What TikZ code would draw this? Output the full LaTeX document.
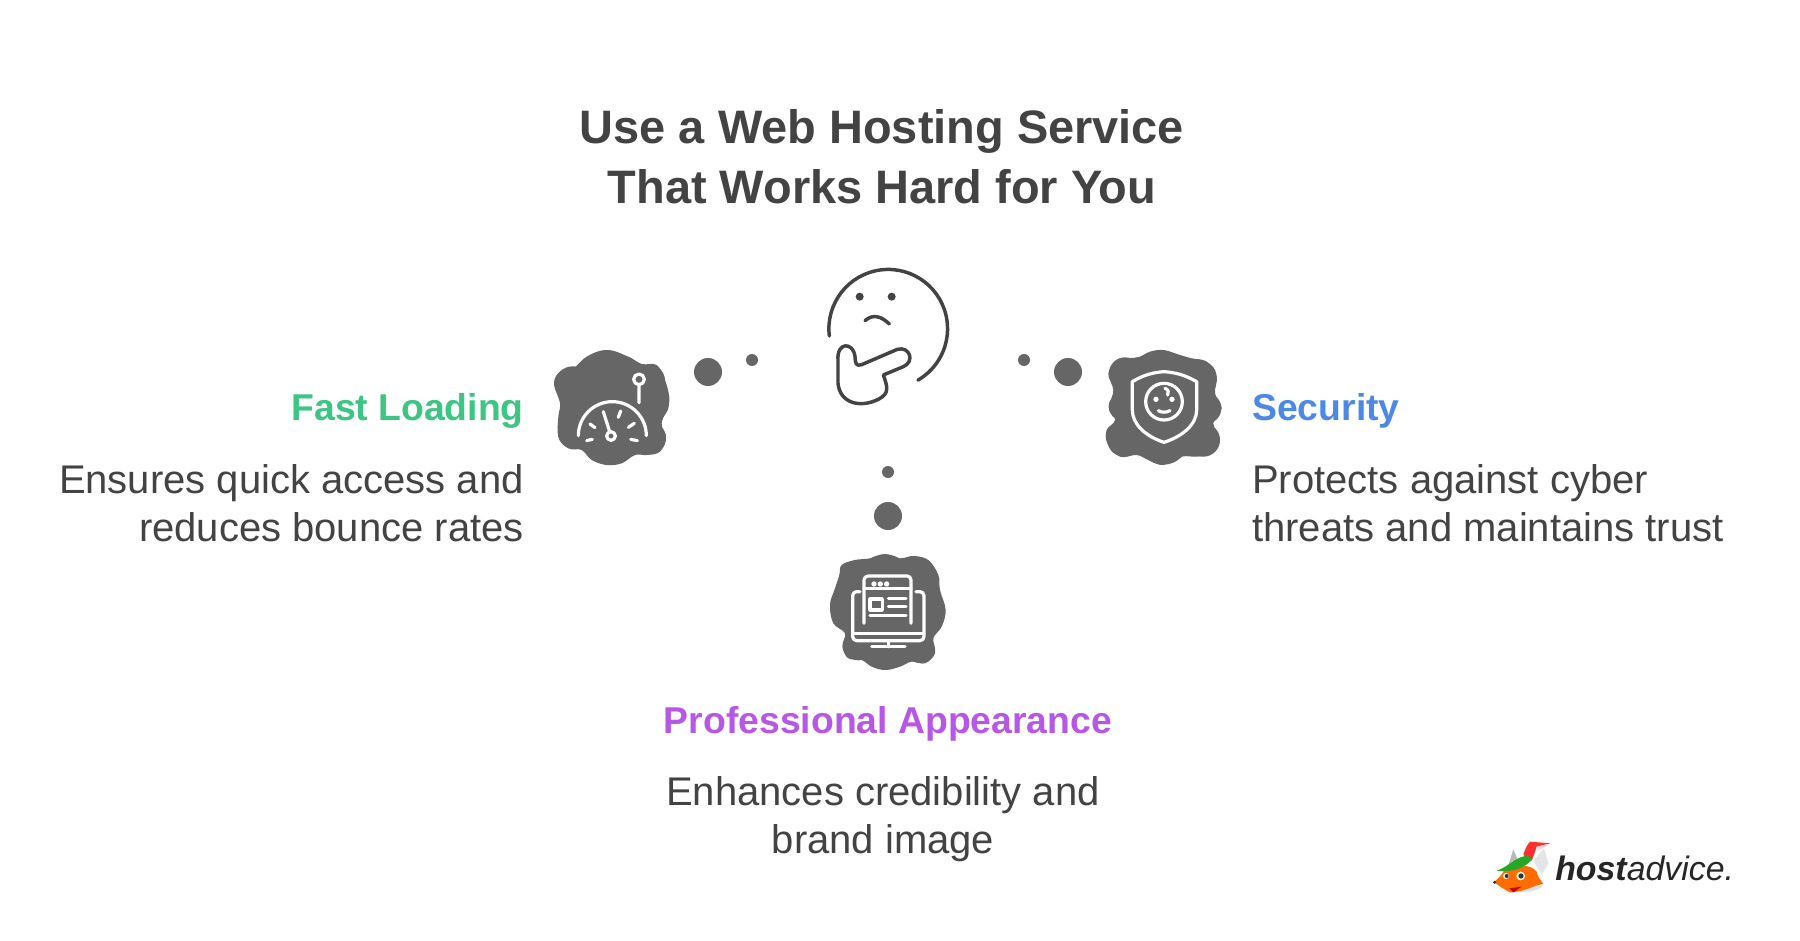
\documentclass[tikz,border=0pt]{standalone}
\usepackage{fontspec}
\setmainfont{Liberation Sans}
\definecolor{ink}{HTML}{434343}
\definecolor{blob}{HTML}{666666}
\definecolor{cgreen}{HTML}{3CC583}
\definecolor{cblue}{HTML}{4E88E7}
\definecolor{cpurple}{HTML}{B658E5}
\tikzset{
  titletext/.style={font=\fontsize{35.2}{44.8}\selectfont\bfseries,text=ink,align=center,inner sep=0pt},
  headtext/.style={font=\fontsize{28}{34}\selectfont\bfseries,inner sep=0pt},
  bodytext/.style={font=\fontsize{30}{36.4}\selectfont,text=ink,inner sep=0pt},
  dot/.style={fill=blob,draw=none,circle,inner sep=0pt},
  iconline/.style={draw=white,line width=2.4pt,line cap=round,line join=round},
  faceline/.style={draw=ink,line width=2.6pt,line cap=round,line join=round}
}
\begin{document}
\begin{tikzpicture}[x=0.75pt,y=-0.75pt]
\useasboundingbox (0,0) rectangle (1800,941);
\fill[white] (0,0) rectangle (1800,941);
\node[titletext] (title) at (882,157) {Use a Web Hosting Service\\That Works Hard for You};
% thinking face
\begin{scope}[shift={(810,260)},scale=1/3]
\draw[faceline] (58,228) arc[start angle=173,end angle=420,radius=178];
\fill[ink] (149,110) circle[radius=12];
\fill[ink] (245,110) circle[radius=12];
\draw[faceline] (165,182) .. controls (190,160) and (215,170) .. (238,192);
\draw[faceline] (84,300) .. controls (80,245) and (130,245) .. (135,290)
 .. controls (136,310) and (138,320) .. (155,314) -- (262,268)
 .. controls (300,258) and (315,305) .. (280,320) -- (220,345)
 .. controls (232,380) and (240,400) .. (205,418)
 .. controls (150,445) and (90,430) .. (84,370) -- cycle;
\end{scope}
% dots
\node[dot,minimum size=21] (d1) at (708,372) {};
\node[dot,minimum size=9] (d2) at (752,360) {};
\node[dot,minimum size=9] (d3) at (1024,360) {};
\node[dot,minimum size=21] (d4) at (1068,372) {};
\node[dot,minimum size=9] (d5) at (888,472) {};
\node[dot,minimum size=21] (d6) at (888,516) {};
% gauge
\begin{scope}[shift={(540,340)},scale=1/3]
\fill[blob] plot[smooth cycle,tension=0.6] coordinates {(200,30)(265,50)(305,72)(350,75)(375,120)(388,185)(365,250)(378,290)(360,335)(320,345)(285,345)(245,370)(200,375)(155,360)(125,330)(85,325)(55,290)(55,230)(60,190)(42,130)(60,95)(100,85)(140,50)};
\fill[blob] (98,133) circle[radius=54] (200,125) circle[radius=94] (328,122) circle[radius=47]
 (332,190) circle[radius=55] (330,295) circle[radius=48] (205,298) circle[radius=76] (100,280) circle[radius=46];
\draw[iconline] (115,287) arc[start angle=180,end angle=360,radius=102];
\draw[iconline] (190,215) -- (208,272);
\draw[iconline] (213,288) circle[radius=13];
\draw[iconline] (150,252) -- (165,263) (235,232) -- (242,213) (265,262) -- (283,250)
 (140,302) -- (157,298) (272,298) -- (292,302);
\draw[iconline] (297,118) circle[radius=16] (297,134) -- (297,188);
\end{scope}
% shield
\begin{scope}[shift={(1100,340)},scale=1/3]
\fill[blob] plot[smooth cycle,tension=0.6] coordinates {(190,30)(240,45)(275,55)(320,65)(350,110)(345,160)(365,205)(340,250)(360,300)(335,340)(290,350)(245,350)(190,375)(145,360)(110,345)(60,350)(22,310)(20,270)(45,240)(30,195)(40,150)(25,100)(50,60)(85,55)(120,50)(150,35)};
\fill[blob] (75,100) circle[radius=48] (185,105) circle[radius=74] (300,112) circle[radius=50]
 (318,205) circle[radius=46] (68,200) circle[radius=42] (72,300) circle[radius=50]
 (310,300) circle[radius=50] (190,298) circle[radius=76];
\draw[iconline] (97,125) .. controls (130,105) and (160,97) .. (192,95)
  .. controls (225,97) and (255,105) .. (290,125) -- (290,210)
  .. controls (290,255) and (245,290) .. (192,307)
  .. controls (140,290) and (97,255) .. (97,210) -- cycle;
\draw[iconline] (192,185) circle[radius=55];
\fill[white] (168,178) circle[radius=8] (216,178) circle[radius=8];
\draw[iconline] (175,212) .. controls (185,218) and (200,218) .. (210,212);
\draw[iconline] (195,145) .. controls (205,148) and (208,158) .. (203,165);
\end{scope}
% browser
\begin{scope}[shift={(800,450)},scale=1/3]
\fill[blob] plot[smooth cycle,tension=0.6] coordinates {(255,312)(300,325)(340,318)(385,330)(415,375)(420,420)(437,480)(425,530)(400,565)(405,610)(375,640)(335,635)(300,650)(255,660)(215,650)(185,630)(145,625)(127,590)(135,550)(100,520)(90,465)(105,415)(118,375)(125,345)(165,330)(210,325)};
\fill[blob] (170,385) circle[radius=52] (255,395) circle[radius=82] (345,385) circle[radius=65]
 (375,480) circle[radius=60] (148,465) circle[radius=57] (175,585) circle[radius=46]
 (258,585) circle[radius=74] (360,595) circle[radius=44];
\draw[iconline,rounded corners=3pt] (192,520) -- (192,378) -- (333,378) -- (333,520);
\draw[iconline] (192,415) -- (333,415);
\fill[white] (222,402) circle[radius=8] (241,402) circle[radius=8] (260,402) circle[radius=8];
\draw[iconline] (210,447) rectangle (247,480);
\draw[iconline] (265,445) -- (318,445) (265,470) -- (318,470) (210,497) -- (318,497);
\draw[iconline,rounded corners=3pt] (180,425) -- (158,425) -- (158,572) -- (372,572) -- (372,425) -- (348,425);
\draw[iconline] (158,550) -- (372,550) (265,572) -- (265,590) (215,590) -- (315,590);
\end{scope}
% texts
\node[headtext,text=cgreen,anchor=base east] (h1) at (524,421) {Fast Loading};
\node[bodytext,anchor=base east] (b1) at (524,493) {Ensures quick access and};
\node[bodytext,anchor=base east] (b1b) at (524,541) {reduces bounce rates};
\node[headtext,text=cblue,anchor=base west] (h2) at (1252,421) {Security};
\node[bodytext,anchor=base west] (b2) at (1252,493) {Protects against cyber};
\node[bodytext,anchor=base west] (b2b) at (1252,541) {threats and maintains trust};
\node[headtext,text=cpurple,anchor=base] (h3) at (888,733) {Professional Appearance};
\node[bodytext,anchor=base] (b3) at (883,805) {Enhances credibility and};
\node[bodytext,anchor=base] (b3b) at (883,853) {brand image};
% logo
\begin{scope}[shift={(1480,830)},scale=1/3]
\fill[black!12] (58,165) .. controls (100,195) and (160,190) .. (188,170) -- (150,160) -- cycle;
\fill[red!75!pink] (130,75) .. controls (135,55) and (145,40) .. (150,35) -- (212,40) -- (170,50) .. controls (165,65) and (160,80) .. (155,92) -- cycle;
\fill[pink!70!white] (170,50) -- (212,40) -- (175,62) -- cycle;
\fill[gray!20] (160,92) -- (192,55) -- (205,100) -- (185,135) -- cycle;
\fill[gray!55] (85,105) -- (100,58) -- (118,100) -- cycle;
\fill[orange!85!red] (72,122) .. controls (110,105) and (150,100) .. (170,125) .. controls (172,140) and (182,150) .. (190,162)
  .. controls (160,165) and (140,185) .. (90,187) .. controls (70,178) and (55,165) .. (42,157) .. controls (55,145) and (65,135) .. (72,122) -- cycle;
\fill[green!60!black!85] (50,122) .. controls (90,110) and (125,60) .. (158,85) .. controls (140,112) and (100,128) .. (50,122) -- cycle;
\fill[white] (78,138) circle[radius=9] (122,138) circle[radius=13];
\fill[black!80] (80,138) circle[radius=6] (123,138) circle[radius=8] (44,157) circle[radius=5];
\fill[red!80!black] (88,175) -- (125,170) -- (100,187) -- cycle;
\end{scope}
\node[anchor=base west,inner sep=0pt,text=black!85,font=\fontsize{25.4}{30}\selectfont] (logo) at (1555,880) {{\bfseries\itshape host}{\itshape advice.}};
\end{tikzpicture}
\end{document}
